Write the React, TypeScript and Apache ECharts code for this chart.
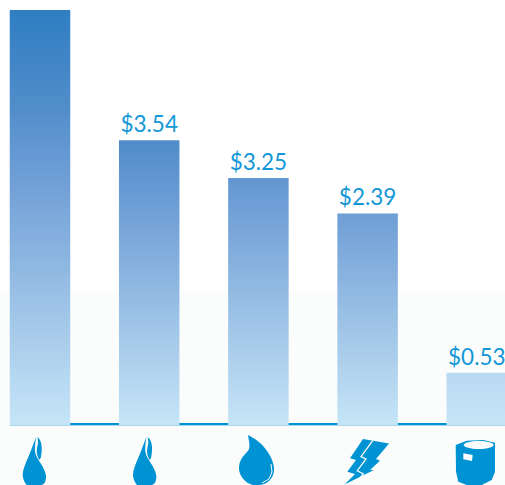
import React, { useEffect, useRef } from "react";
import * as echarts from "echarts";

const categories = ["Natural gas A", "Natural gas B", "Water", "Electricity", "Fuel oil"];
const barHeights = [5.16, 3.54, 3.07, 2.63, 0.65];
const priceLabels = ["", "$3.54", "$3.25", "$2.39", "$0.53"];
const rampStarts = [0, 0.22, 0.33, 0.4, 0.9];
const ramp: [number, number[]][] = [
  [0, [47, 126, 194]],
  [0.22, [79, 140, 202]],
  [0.4, [110, 158, 214]],
  [0.8, [170, 205, 235]],
  [1, [197, 229, 247]],
];
const BLUE = "#0093d3";

const flame =
  "M36 437.3 C34 442 32 448 30 453 C28 458 25.5 463 24 468 C22.5 472 22.3 476 23.5 479.5 C24.5 482 25.5 484 26.7 485 L42 485 C44 484 45.5 482.5 46 478 C46.5 474 44 469 41.7 465 C40 462 38 459.5 36.7 456.7 C35 453 34.6 450 35 446.7 C35.2 443 35.6 440 36 437.3 Z " +
  "M37.3 437.3 C38.8 438.2 40 439.8 40.7 441.7 C41.5 444.5 41.9 447 41.7 450 C41.6 453 41.2 456 40.7 458 L39.3 460 C38 457.5 37 455 36.7 451.7 C36.6 448.5 37.6 446 38 443.3 C38.1 441 37.8 439 37.3 437.3 Z";
const drop =
  "M248 435 C254 438 262 443 267 451 C272 458 274.5 465 274 471 C273 479 267 485 258 485 L253 485 C245 483 239 476 239 468 C239 460 244 455 248 451 C251 447 248.5 440 248 435 Z";
const bolt =
  "M363 439 L389 443.5 L376 459 L380 460.7 L370 470 L374 470 L344.5 484.5 L355 474 L347.3 471.7 L356 460 L350 458.3 Z";
const cylinder =
  "M455.7 445 L466.7 440.7 L483.3 440 L495 442.7 L495 471.7 L491.7 480 L481.7 485 L466.7 485 L458.3 481.7 L456 471.7 Z";

echarts.graphic.registerShape("flameIcon", echarts.graphic.extendPath(flame, {}));
echarts.graphic.registerShape("dropIcon", echarts.graphic.extendPath(drop, {}));
echarts.graphic.registerShape("boltIcon", echarts.graphic.extendPath(bolt, {}));
echarts.graphic.registerShape("cylinderIcon", echarts.graphic.extendPath(cylinder, {}));

const rgb = (c: number[]) => `rgb(${c.map((v) => Math.round(v)).join(",")})`;
const rampAt = (p: number) => {
  for (let i = 1; i < ramp.length; i++) {
    const [q0, c0] = ramp[i - 1];
    const [q1, c1] = ramp[i];
    if (p <= q1) return c0.map((v, k) => v + ((c1[k] - v) * (p - q0)) / (q1 - q0));
  }
  return ramp[ramp.length - 1][1];
};
const stopsFrom = (p: number) => [
  { offset: 0, color: rgb(rampAt(p)) },
  ...ramp
    .filter(([q]) => q > p)
    .map(([q, c]) => ({ offset: (q - p) / (1 - p), color: rgb(c) })),
];

export default function App() {
  const ref = useRef<HTMLDivElement>(null);
  useEffect(() => {
    document.body.style.margin = "0";
    const chart = echarts.init(ref.current!, undefined, { renderer: "svg" });
    const data = barHeights.map((value, i) => ({
      value,
      itemStyle: { color: new echarts.graphic.LinearGradient(0, 0, 0, 1, stopsFrom(rampStarts[i])) },
    }));
    chart.setOption({
      animation: false,
      backgroundColor: "#ffffff",
      grid: { left: -14.6, width: 546, top: 10, height: 415, containLabel: false, outerBoundsMode: "none" },
      xAxis: {
        type: "category",
        data: categories,
        axisLine: { show: false },
        axisTick: { show: false },
        axisLabel: { show: false },
      },
      yAxis: { type: "value", min: 0, max: 5.16, show: false, splitLine: { show: false } },
      series: [
        {
          type: "bar",
          data,
          barWidth: 60.5,
          clip: false,
          z: 3,
          label: {
            show: true,
            position: "top",
            distance: 5,
            color: "#1497d6",
            fontFamily: "Lato",
            fontSize: 22.5,
            formatter: (p: any) => priceLabels[p.dataIndex],
          },
        },
      ],
      graphic: [
        { type: "rect", z: -2, shape: { x: 0, y: 291, width: 505, height: 194 }, style: { fill: "#fbfdfd" } },
        { type: "rect", z: 1, shape: { x: 10, y: 423, width: 495, height: 2 }, style: { fill: BLUE } },
        { type: "rect", z: 10, shape: { x: 10, y: 425, width: 495, height: 1 }, style: { fill: "#a9d7ee" } },
        { type: "flameIcon", z: 10, style: { fill: BLUE } },
        { type: "flameIcon", x: 110.3, z: 10, style: { fill: BLUE } },
        { type: "dropIcon", z: 10, style: { fill: BLUE } },
        { type: "polyline", z: 11, shape: { points: [[271, 464], [272, 472], [269, 479], [262, 483]] }, style: { stroke: "#fbfdfd", lineWidth: 1, fill: "none" } },
        { type: "boltIcon", z: 10, style: { fill: BLUE } },
        { type: "polyline", z: 11, shape: { points: [[372.7, 440.7], [361, 456.7], [366, 459], [357.3, 470.7], [363.3, 474], [357.3, 481.5]] }, style: { stroke: "#fbfdfd", lineWidth: 1.3, fill: "none" } },
        { type: "cylinderIcon", z: 10, style: { fill: BLUE } },
        { type: "ellipse", z: 11, shape: { cx: 478.7, cy: 445, rx: 15, ry: 4 }, style: { fill: "#fbfdfd" } },
        { type: "polygon", z: 11, shape: { points: [[463.3, 453.3], [472.7, 455], [472, 461], [463.3, 459.3]] }, style: { fill: "#fbfdfd" } },
      ],
    });
    return () => chart.dispose();
  }, []);
  return <div ref={ref} style={{ width: 505, height: 485 }} />;
}
